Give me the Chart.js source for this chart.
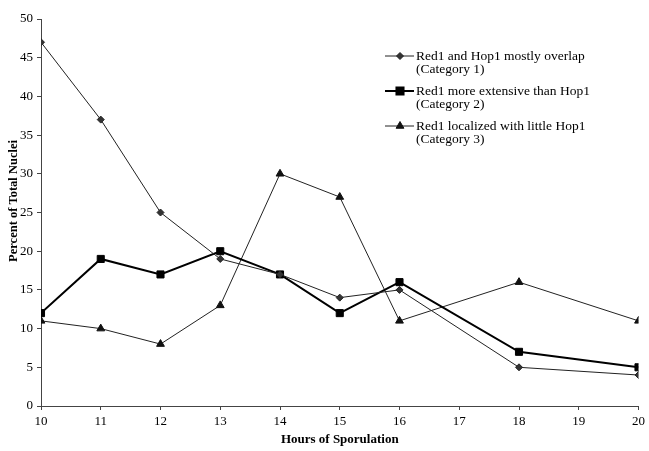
<!DOCTYPE html>
<html><head><meta charset="utf-8">
<script src="https://cdn.jsdelivr.net/npm/chart.js@4/dist/chart.umd.min.js"></script>
<style>html,body{margin:0;padding:0;background:#fff}#wrap{width:649px;height:451px}</style>
</head><body><div id="wrap"><canvas id="c" width="649" height="451"></canvas></div>
<script>
const hours = [10, 11, 12, 13, 14, 15, 16, 18, 20];
const cat1 = [47, 37, 25, 19, 17, 14, 15, 5, 4];
const cat2 = [12, 19, 17, 20, 17, 12, 16, 7, 5];
const cat3 = [11, 10, 8, 13, 30, 27, 11, 16, 11];
const labels1 = ["Red1 and Hop1 mostly overlap", "(Category 1)"];
const labels2 = ["Red1 more extensive than Hop1", "(Category 2)"];
const labels3 = ["Red1 localized with little Hop1", "(Category 3)"];
const xTitle = "Hours of Sporulation";
const yTitle = "Percent of Total Nuclei";

const pts = a => a.map((v, i) => ({x: hours[i], y: v}));
const serif = "'Liberation Serif', 'DejaVu Serif', serif";

const legendPlugin = {
  id: 'customLegend',
  afterDraw(chart) {
    const ctx = chart.ctx;
    const items = chart.data.datasets;
    const x0 = 385, y0 = 56, gap = 35;
    ctx.save();
    items.forEach((ds, i) => {
      const y = y0 + i * gap;
      ctx.strokeStyle = ds.borderColor;
      ctx.lineWidth = ds.borderWidth;
      ctx.beginPath(); ctx.moveTo(x0, y); ctx.lineTo(x0 + 29, y); ctx.stroke();
      ctx.fillStyle = ds.pointBackgroundColor; ctx.strokeStyle = ds.pointBorderColor;
      Chart.helpers.drawPoint(ctx, {pointStyle: ds.pointStyle, radius: ds.pointRadius, borderWidth: 1}, x0 + 15, y);
      ctx.fillStyle = '#000';
      ctx.font = "13.5px " + serif;
      ctx.textBaseline = 'middle';
      ctx.textAlign = 'left';
      ctx.fillText(ds.label[0], x0 + 31, y);
      ctx.fillText(ds.label[1], x0 + 31, y + 13);
    });
    // y axis title
    ctx.translate(14, 201);
    ctx.rotate(-Math.PI / 2);
    ctx.font = "bold 12.5px " + serif;
    ctx.textAlign = 'center';
    ctx.textBaseline = 'middle';
    ctx.fillStyle = '#000';
    ctx.fillText(yTitle, 0, 0);
    ctx.restore();
  }
};

new Chart(document.getElementById('c'), {
  type: 'line',
  data: {
    datasets: [
      {label: labels1, data: pts(cat1), borderColor: '#222', borderWidth: 1, pointStyle: 'rectRot', pointRadius: 3.5, pointBackgroundColor: '#333', pointBorderColor: '#222', pointBorderWidth: 1, tension: 0},
      {label: labels2, data: pts(cat2), borderColor: '#000', borderWidth: 2, pointStyle: 'rect', pointRadius: 5, pointBackgroundColor: '#000', pointBorderColor: '#000', pointBorderWidth: 1, tension: 0},
      {label: labels3, data: pts(cat3), borderColor: '#222', borderWidth: 1, pointStyle: 'triangle', pointRadius: 4.5, pointBackgroundColor: '#111', pointBorderColor: '#111', pointBorderWidth: 1, tension: 0}
    ]
  },
  options: {
    responsive: false,
    animation: false,
    devicePixelRatio: 1,
    layout: {padding: {top: 19, right: 8, left: 0, bottom: 0}},
    plugins: {legend: {display: false}, tooltip: {enabled: false}},
    scales: {
      x: {
        type: 'linear', min: 10, max: 20,
        ticks: {stepSize: 1, color: '#000', font: {family: serif, size: 13}, padding: 4},
        grid: {display: true, drawOnChartArea: false, drawTicks: true, tickLength: 4, color: '#444'},
        border: {display: true, color: '#444', width: 1},
        title: {display: true, text: xTitle, color: '#000', font: {family: serif, size: 13, weight: 'bold'}, padding: {top: 6}},
        afterFit(s) { s.height = 45; }
      },
      y: {
        min: 0, max: 50,
        ticks: {stepSize: 5, color: '#000', font: {family: serif, size: 13}, padding: 4},
        grid: {display: true, drawOnChartArea: false, drawTicks: true, tickLength: 4, color: '#444'},
        border: {display: true, color: '#444', width: 1},
        title: {display: false},
        afterFit(s) { s.width = 41; }
      }
    }
  },
  plugins: [legendPlugin]
});
</script></body></html>
